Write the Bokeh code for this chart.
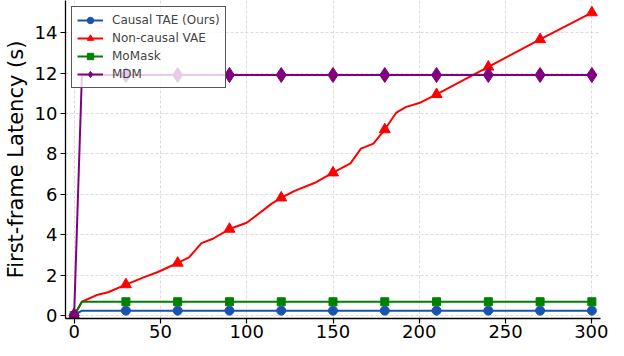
from bokeh.plotting import figure
from bokeh.models import Range1d, FixedTicker
from bokeh.embed import file_html
from bokeh.resources import INLINE

# ---- data (frames vs first-frame latency in seconds) ----
causal_x = [0, 4.5, 30, 60, 90, 120, 150, 180, 210, 240, 270, 300]
causal_y = [0, 0.24, 0.24, 0.24, 0.24, 0.24, 0.24, 0.24, 0.24, 0.24, 0.24, 0.24]

noncausal_x = [0, 4.5, 13.7, 19.7, 30, 40.6, 48.2, 60, 66.6, 73.8, 80.4, 90, 100,
               114.5, 120, 127.8, 139.2, 150, 160.1, 166.2, 173.4, 180, 186.7,
               192.4, 200, 210, 240, 270, 300]
noncausal_y = [0, 0.68, 1.03, 1.15, 1.53, 1.9, 2.14, 2.6, 2.88, 3.58, 3.8, 4.28, 4.59,
               5.54, 5.83, 6.17, 6.56, 7.07, 7.53, 8.26, 8.51, 9.21, 10.05,
               10.33, 10.52, 10.95, 12.31, 13.67, 15.0]

momask_x = [0, 4.5, 30, 60, 90, 120, 150, 180, 210, 240, 270, 300]
momask_y = [0, 0.68, 0.68, 0.68, 0.68, 0.68, 0.68, 0.68, 0.68, 0.68, 0.68, 0.68]

mdm_x = [0, 4.5, 30, 60, 90, 120, 150, 180, 210, 240, 270, 300]
mdm_y = [0, 11.91, 11.91, 11.91, 11.91, 11.91, 11.91, 11.91, 11.91, 11.91, 11.91, 11.91]

x_ticks = [0, 50, 100, 150, 200, 250, 300]
y_ticks = [0, 2, 4, 6, 8, 10, 12, 14]
marker_step = 30

FONT = "DejaVu Sans"

p = figure(width=608, height=340, output_backend="svg", toolbar_location=None,
           x_range=Range1d(-5, 305), y_range=Range1d(-0.15, 15.6),
           min_border_left=0, min_border_right=8, min_border_top=0,
           min_border_bottom=0)
p.outline_line_color = None
p.background_fill_color = "white"

for ax in (p.xaxis, p.yaxis):
    ax.axis_line_color = "black"
    ax.axis_line_width = 1.3
    ax.major_tick_line_color = "black"
    ax.major_tick_line_width = 1.2
    ax.major_tick_out = 5
    ax.major_tick_in = 0
    ax.minor_tick_line_color = None
    ax.major_label_text_font = FONT
    ax.major_label_text_font_size = "18px"
    ax.major_label_text_color = "black"

p.xaxis.ticker = FixedTicker(ticks=x_ticks)
p.yaxis.ticker = FixedTicker(ticks=y_ticks)
p.xaxis.major_label_standoff = 1
p.xaxis.major_label_text_line_height = 0.9
p.yaxis.major_label_standoff = 3

p.yaxis.axis_label = "First-frame Latency (s)"
p.yaxis.axis_label_text_font = FONT
p.yaxis.axis_label_text_font_size = "21px"
p.yaxis.axis_label_text_font_style = "normal"
p.yaxis.axis_label_text_color = "black"
p.yaxis.axis_label_standoff = 4

for g in (p.xgrid, p.ygrid):
    g.grid_line_color = "#c8c8c8"
    g.grid_line_dash = "3 2"
    g.grid_line_width = 0.8
    g.grid_line_alpha = 0.8

series = [
    ("Causal TAE (Ours)", causal_x, causal_y, "#1a52b0", "circle", 9),
    ("Non-causal VAE", noncausal_x, noncausal_y, "#ff0000", "triangle", 11),
    ("MoMask", momask_x, momask_y, "#008000", "square", 8),
    ("MDM", mdm_x, mdm_y, "#800080", "diamond", 15),
]

for label, xs, ys, color, marker, size in series:
    p.line(xs, ys, line_color=color, line_width=2, legend_label=label)
    mx = [x for x in xs if x % marker_step == 0]
    my = [y for x, y in zip(xs, ys) if x % marker_step == 0]
    p.scatter(mx, my, marker=marker, size=size, fill_color=color,
              line_color=color, legend_label=label)

lg = p.legend[0]
lg.location = "top_left"
lg.margin = 6
lg.padding = 5
lg.spacing = 2
lg.glyph_width = 26
lg.glyph_height = 16
lg.label_standoff = 9
lg.label_text_font = FONT
lg.label_text_font_size = "12px"
lg.label_height = 16
lg.background_fill_color = "white"
lg.background_fill_alpha = 0.8
lg.border_line_color = "#444444"
lg.border_line_width = 1
lg.border_line_alpha = 0.9

open("out.html", "w").write(file_html(p, INLINE))
